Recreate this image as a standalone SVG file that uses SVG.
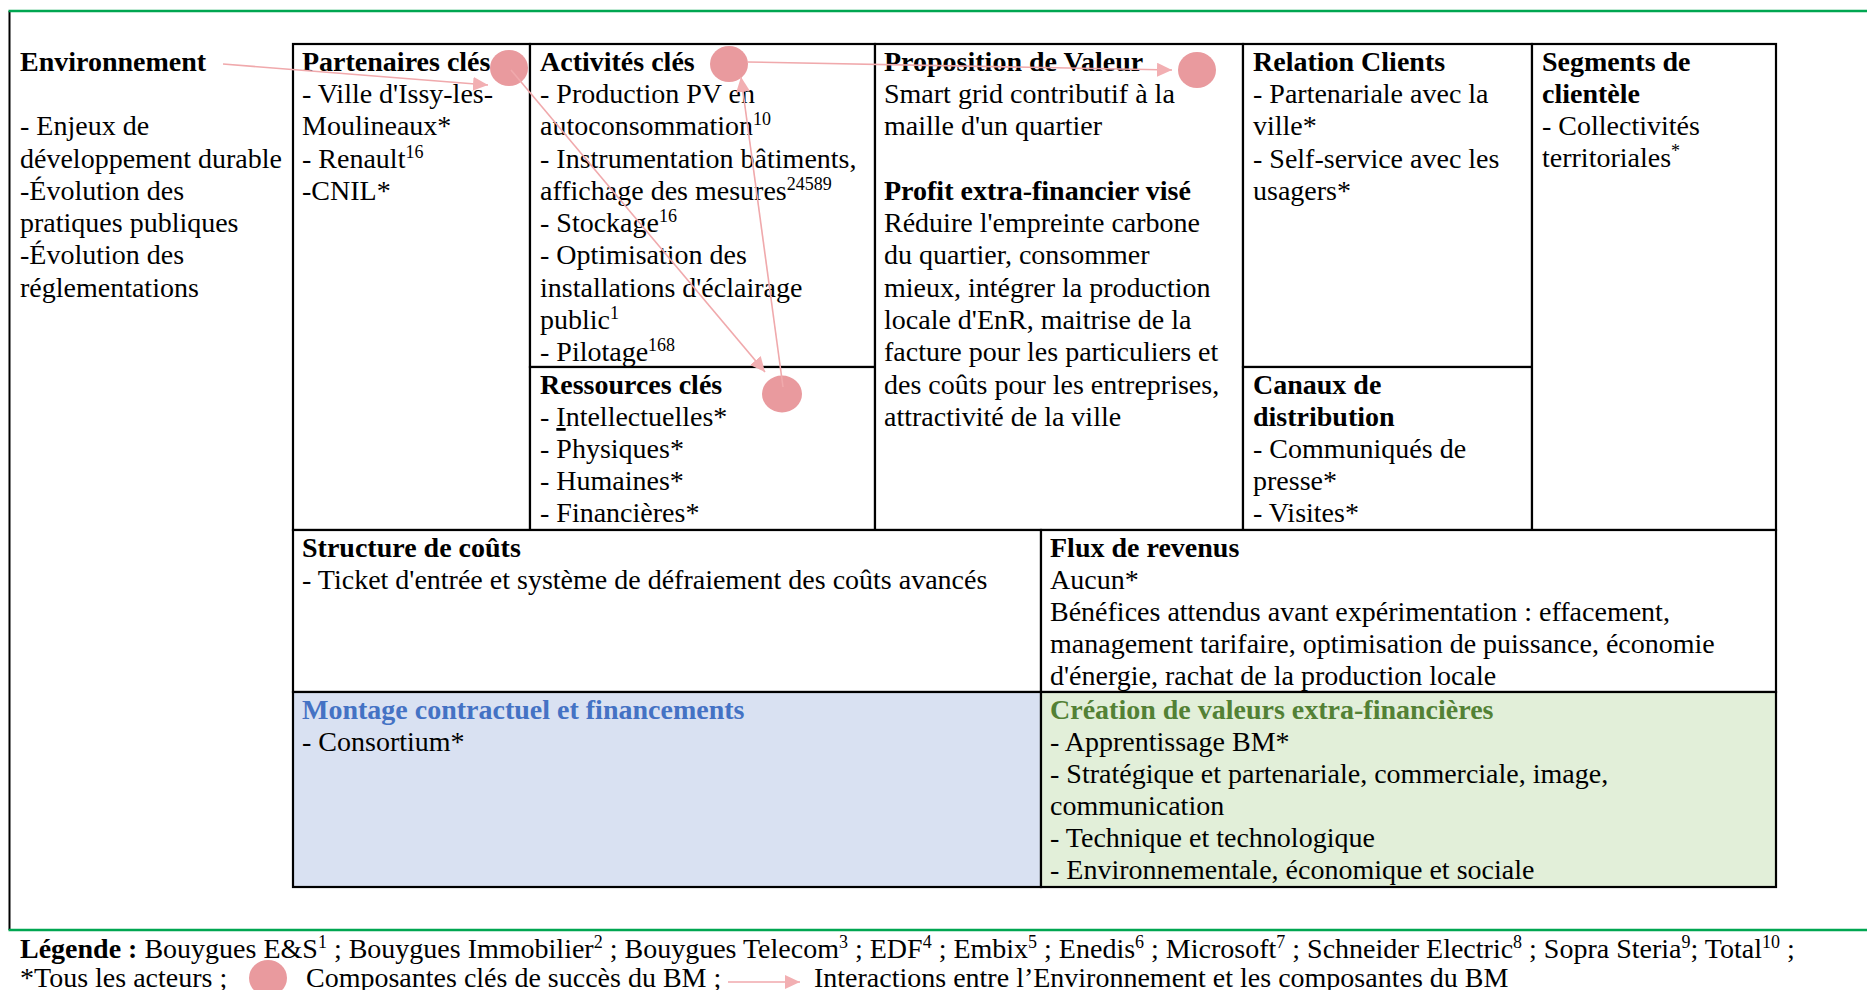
<svg xmlns="http://www.w3.org/2000/svg" width="1867" height="990" viewBox="0 0 1867 990">
<style>
text{font-family:"Liberation Serif","Times New Roman",serif;font-size:28px;fill:#000}
.b{font-weight:bold}
.sup{font-size:18px}
.cell{fill:#fff;stroke:#000;stroke-width:2.2}
.blue{fill:#D9E1F2}
.green{fill:#E2EFD9}
.hb{fill:#4472C4;font-weight:bold}
.hg{fill:#538135;font-weight:bold}
.dot{fill:#E99A9E}
.arr{stroke:#F0A9AC;stroke-width:1.6;fill:none;marker-end:url(#ah)}
.frame-g{stroke:#00A651;stroke-width:2.5}
.frame-k{stroke:#000;stroke-width:2}
</style>
<defs>
<marker id="ah" markerUnits="userSpaceOnUse" markerWidth="16" markerHeight="14" refX="15" refY="7" orient="auto">
<path d="M0,0 L15,7 L0,14 Z" fill="#F2AFB2"/>
</marker>
</defs>
<rect width="1867" height="990" fill="#fff"/>
<g id="frame">
<line class="frame-k" x1="9.5" y1="11" x2="9.5" y2="930"/>
<line class="frame-g" x1="8.5" y1="11" x2="1867" y2="11"/>
<line class="frame-g" x1="8.5" y1="930" x2="1867" y2="930"/>
</g>
<g id="environnement">
<text x="20" y="71" class="b">Environnement</text>
<text x="20" y="135">- Enjeux de</text>
<text x="20" y="168">développement durable</text>
<text x="20" y="200">-Évolution des</text>
<text x="20" y="232">pratiques publiques</text>
<text x="20" y="264">-Évolution des</text>
<text x="20" y="297">réglementations</text>
</g>
<g id="partenaires">
<rect class="cell" x="293" y="44" width="237" height="486"/>
<text x="302" y="71" class="b">Partenaires clés</text>
<text x="302" y="103">- Ville d'Issy-les-</text>
<text x="302" y="135">Moulineaux*</text>
<text x="302" y="168">- Renault<tspan class="sup" baseline-shift="super">16</tspan></text>
<text x="302" y="200">-CNIL*</text>
</g>
<g id="activites">
<rect class="cell" x="530" y="44" width="345" height="323"/>
<text x="540" y="71" class="b">Activités clés</text>
<text x="540" y="103">- Production PV en</text>
<text x="540" y="135">autoconsommation<tspan class="sup" baseline-shift="super">10</tspan></text>
<text x="540" y="168">- Instrumentation bâtiments,</text>
<text x="540" y="200">affichage des mesures<tspan class="sup" baseline-shift="super">24589</tspan></text>
<text x="540" y="232">- Stockage<tspan class="sup" baseline-shift="super">16</tspan></text>
<text x="540" y="264">- Optimisation des</text>
<text x="540" y="297">installations d'éclairage</text>
<text x="540" y="329">public<tspan class="sup" baseline-shift="super">1</tspan></text>
<text x="540" y="361">- Pilotage<tspan class="sup" baseline-shift="super">168</tspan></text>
</g>
<g id="ressources">
<rect class="cell" x="530" y="367" width="345" height="163"/>
<text x="540" y="394" class="b">Ressources clés</text>
<text x="540" y="426">- <tspan text-decoration="underline">I</tspan>ntellectuelles*</text>
<text x="540" y="458">- Physiques*</text>
<text x="540" y="490">- Humaines*</text>
<text x="540" y="522">- Financières*</text>
</g>
<g id="proposition">
<rect class="cell" x="875" y="44" width="368" height="486"/>
<text x="884" y="71" class="b">Proposition de Valeur</text>
<text x="884" y="103">Smart grid contributif à la</text>
<text x="884" y="135">maille d'un quartier</text>
<text x="884" y="200" class="b">Profit extra-financier visé</text>
<text x="884" y="232">Réduire l'empreinte carbone</text>
<text x="884" y="264">du quartier, consommer</text>
<text x="884" y="297">mieux, intégrer la production</text>
<text x="884" y="329">locale d'EnR, maitrise de la</text>
<text x="884" y="361">facture pour les particuliers et</text>
<text x="884" y="394">des coûts pour les entreprises,</text>
<text x="884" y="426">attractivité de la ville</text>
</g>
<g id="relation">
<rect class="cell" x="1243" y="44" width="289" height="323"/>
<text x="1253" y="71" class="b">Relation Clients</text>
<text x="1253" y="103">- Partenariale avec la</text>
<text x="1253" y="135">ville*</text>
<text x="1253" y="168">- Self-service avec les</text>
<text x="1253" y="200">usagers*</text>
</g>
<g id="canaux">
<rect class="cell" x="1243" y="367" width="289" height="163"/>
<text x="1253" y="394" class="b">Canaux de</text>
<text x="1253" y="426" class="b">distribution</text>
<text x="1253" y="458">- Communiqués de</text>
<text x="1253" y="490">presse*</text>
<text x="1253" y="522">- Visites*</text>
</g>
<g id="segments">
<rect class="cell" x="1532" y="44" width="244" height="486"/>
<text x="1542" y="71" class="b">Segments de</text>
<text x="1542" y="103" class="b">clientèle</text>
<text x="1542" y="135">- Collectivités</text>
<text x="1542" y="167">territoriales<tspan class="sup" baseline-shift="super">*</tspan></text>
</g>
<g id="couts">
<rect class="cell" x="293" y="530" width="748" height="162"/>
<text x="302" y="557" class="b">Structure de coûts</text>
<text x="302" y="589">- Ticket d'entrée et système de défraiement des coûts avancés</text>
</g>
<g id="revenus">
<rect class="cell" x="1041" y="530" width="735" height="162"/>
<text x="1050" y="557" class="b">Flux de revenus</text>
<text x="1050" y="589">Aucun*</text>
<text x="1050" y="621">Bénéfices attendus avant expérimentation : effacement,</text>
<text x="1050" y="653">management tarifaire, optimisation de puissance, économie</text>
<text x="1050" y="685">d'énergie, rachat de la production locale</text>
</g>
<g id="montage">
<rect class="cell blue" x="293" y="692" width="748" height="195"/>
<text x="302" y="719" class="hb">Montage contractuel et financements</text>
<text x="302" y="751">- Consortium*</text>
</g>
<g id="creation">
<rect class="cell green" x="1041" y="692" width="735" height="195"/>
<text x="1050" y="719" class="hg">Création de valeurs extra-financières</text>
<text x="1050" y="751">- Apprentissage BM*</text>
<text x="1050" y="783">- Stratégique et partenariale, commerciale, image,</text>
<text x="1050" y="815">communication</text>
<text x="1050" y="847">- Technique et technologique</text>
<text x="1050" y="879">- Environnementale, économique et sociale</text>
</g>
<g id="cles">
<ellipse class="dot" cx="509" cy="68" rx="19" ry="18"/>
<ellipse class="dot" cx="729" cy="64" rx="19" ry="18"/>
<ellipse class="dot" cx="1197" cy="70" rx="19" ry="18"/>
<ellipse class="dot" cx="782" cy="394" rx="20" ry="18.5"/>
</g>
<g id="connectors">
<line class="arr" x1="223" y1="64" x2="488" y2="85"/>
<line class="arr" x1="511" y1="70" x2="765" y2="372"/>
<line class="arr" x1="783" y1="387" x2="741" y2="77"/>
<line class="arr" x1="747" y1="62" x2="1172" y2="70"/>
</g>
<g id="legende">
<text x="20" y="958"><tspan class="b">Légende :</tspan> Bouygues E&amp;S<tspan class="sup" baseline-shift="super">1</tspan> ; Bouygues Immobilier<tspan class="sup" baseline-shift="super">2</tspan> ; Bouygues Telecom<tspan class="sup" baseline-shift="super">3</tspan> ; EDF<tspan class="sup" baseline-shift="super">4</tspan> ; Embix<tspan class="sup" baseline-shift="super">5</tspan> ; Enedis<tspan class="sup" baseline-shift="super">6</tspan> ; Microsoft<tspan class="sup" baseline-shift="super">7</tspan> ; Schneider Electric<tspan class="sup" baseline-shift="super">8</tspan> ; Sopra Steria<tspan class="sup" baseline-shift="super">9</tspan>; Total<tspan class="sup" baseline-shift="super">10</tspan> ;</text>
<text x="20" y="987">*Tous les acteurs ;</text>
<ellipse class="dot" cx="268" cy="978" rx="19" ry="18"/>
<text x="306" y="987">Composantes clés de succès du BM ;</text>
<line class="arr" x1="728" y1="982" x2="800" y2="982"/>
<text x="814" y="987">Interactions entre l’Environnement et les composantes du BM</text>
</g>
</svg>
